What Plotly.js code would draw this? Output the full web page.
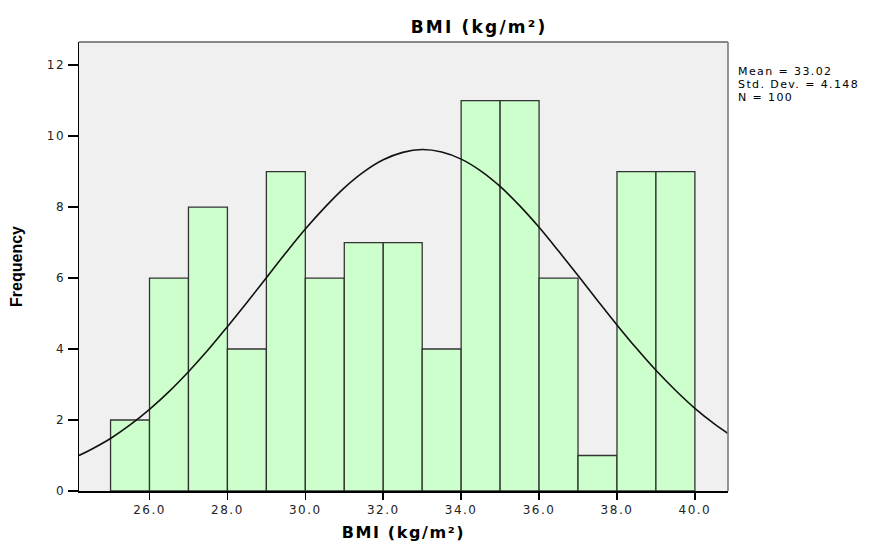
<!DOCTYPE html>
<html><head><meta charset="utf-8">
<script src="https://cdn.plot.ly/plotly-3.0.1.min.js"></script>
<style>
html,body{margin:0;padding:0;background:#fff}#c{width:871px;height:543px}
.xtick text,.ytick text{letter-spacing:1.5px}
.gtitle{letter-spacing:2.2px}
.xtitle{letter-spacing:1.6px}
.annotation-text{letter-spacing:1.4px}
</style>
</head><body><div id="c"></div>
<script>
// Histogram bins (BMI), width 1
const binCenters = [25.5,26.5,27.5,28.5,29.5,30.5,31.5,32.5,33.5,34.5,35.5,36.5,37.5,38.5,39.5];
const frequencies = [2,6,8,4,9,6,7,7,4,11,11,6,1,9,9];
// Normal curve points
const curveX = [24.19,24.5,25,25.5,26,26.5,27,27.5,28,28.5,29,29.5,30,30.5,31,31.5,32,32.5,33,33.5,34,34.5,35,35.5,36,36.5,37,37.5,38,38.5,39,39.5,40,40.5,40.85];
const curveY = [1.00,1.17,1.48,1.86,2.30,2.80,3.36,3.97,4.63,5.31,6.01,6.71,7.38,7.99,8.54,8.99,9.33,9.54,9.62,9.55,9.35,9.02,8.58,8.04,7.43,6.76,6.07,5.37,4.68,4.02,3.40,2.84,2.33,1.89,1.62];
const xTicks = [26,28,30,32,34,36,38,40];
const xTickText = ["26.0","28.0","30.0","32.0","34.0","36.0","38.0","40.0"];
const yTicks = [0,2,4,6,8,10,12];
const statsLines = ["Mean = 33.02","Std. Dev. = 4.148","N = 100"];

const font = "DejaVu Sans, Liberation Sans, sans-serif";
const data = [
  {type:'bar', x:binCenters, y:frequencies, width:1,
   marker:{color:'#CCFFCC', line:{color:'#333333', width:1.3}}, hoverinfo:'none'},
  {type:'scatter', mode:'lines', x:curveX, y:curveY, line:{color:'#111', width:1.6, shape:'spline'}, hoverinfo:'none'}
];
const statsY = [0.934, 0.905, 0.876];
const layout = {
  width:871, height:543, showlegend:false,
  paper_bgcolor:'#ffffff', plot_bgcolor:'#F0F0F0',
  margin:{l:79, r:143, t:42, b:52},
  title:{text:'BMI (kg/m²)', font:{family:font, size:17, color:'#000', weight:'bold'}, x:0.55, xanchor:'center', y:0.950, yanchor:'middle'},
  xaxis:{range:[24.19,40.85], tickvals:xTicks, ticktext:xTickText, ticks:'outside', ticklen:7, tickwidth:1.5, tickcolor:'#000',
    showline:true, linecolor:'#000', linewidth:1.5, showgrid:false, zeroline:false,
    tickfont:{family:font, size:12, color:'#222'},
    title:{text:'BMI (kg/m²)', font:{family:font, size:16, color:'#000', weight:'bold'}, standoff:11}},
  yaxis:{range:[0,12.65], tickvals:yTicks, ticks:'outside', ticklen:10, tickwidth:1.5, tickcolor:'#000',
    showline:true, linecolor:'#000', linewidth:1.5, showgrid:false, zeroline:false,
    tickfont:{family:font, size:12, color:'#222'},
    title:{text:'Frequency', font:{family:'Liberation Sans, Arial, sans-serif', size:16, color:'#000', weight:'bold'}, standoff:20}},
  shapes:[
    {type:'line', xref:'paper', yref:'paper', x0:0, x1:1, y0:1, y1:1, line:{color:'#888', width:1.8}},
    {type:'line', xref:'paper', yref:'paper', x0:1, x1:1, y0:0, y1:1, line:{color:'#888', width:1.8}}
  ],
  annotations: statsLines.map((t,i)=>({xref:'paper', yref:'paper', x:1.013, y:statsY[i], xanchor:'left', yanchor:'middle', align:'left', showarrow:false,
     text:t, font:{family:font, size:11, color:'#000'}}))
};
Plotly.newPlot('c', data, layout, {staticPlot:true});
</script></body></html>
